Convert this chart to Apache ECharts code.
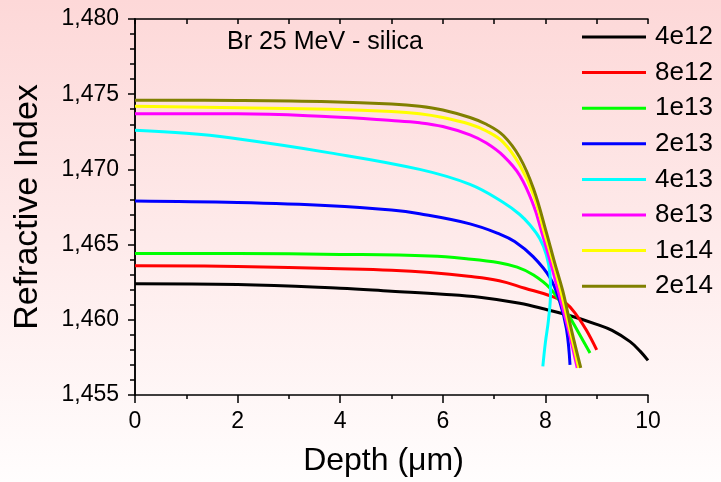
<!DOCTYPE html>
<html>
<head>
<meta charset="utf-8">
<script src="https://cdn.jsdelivr.net/npm/echarts@6/dist/echarts.min.js"></script>
<style>
  html, body { margin: 0; padding: 0; }
  #chart { width: 721px; height: 482px; }
</style>
</head>
<body>
<div id="chart"></div>
<script>
// Refractive index profiles vs depth for different Br fluences
const fluences = ['4e12', '8e12', '1e13', '2e13', '4e13', '8e13', '1e14', '2e14'];
const colors = ['#000000', '#ff0000', '#00ff00', '#0000ff', '#00ffff', '#ff00ff', '#ffff00', '#808000'];

const xTicks = [0, 2, 4, 6, 8, 10];
const yTicks = [1.455, 1.460, 1.465, 1.470, 1.475, 1.480];

// [depth (µm), refractive index]
const n4e12 = [[0,1.4624],[2,1.46235],[4,1.4621],[5,1.4619],[6,1.4617],[6.72,1.4615],[7.5,1.4611],[8,1.4607],[8.5,1.46025],[9,1.4597],[9.3,1.4593],[9.65,1.45855],[9.85,1.4579],[10,1.4573]];
const n8e12 = [[0,1.4636],[2,1.46355],[4,1.4634],[5,1.4633],[5.75,1.46315],[6.5,1.4629],[7.1,1.4626],[7.6,1.4621],[8.09,1.4616],[8.4,1.4611],[8.61,1.4603],[8.8,1.4593],[9.0,1.4580]];
const n1e13 = [[0,1.4644],[2,1.4644],[4,1.46435],[5.75,1.46424],[6.5,1.46405],[7.1,1.4638],[7.45,1.4635],[7.76,1.4630],[8.09,1.4621],[8.41,1.46054],[8.67,1.4590],[8.87,1.4578]];
const n2e13 = [[0,1.4679],[2,1.4678],[3.8,1.46759],[5,1.4673],[5.55,1.46705],[6.53,1.46638],[7.11,1.4657],[7.4,1.4652],[7.76,1.4642],[8.09,1.4628],[8.28,1.4612],[8.41,1.4594],[8.48,1.4570]];
const n4e13 = [[0,1.4726],[1,1.4724],[1.85,1.4721],[3.8,1.4711],[5.55,1.4700],[6.53,1.4690],[7.18,1.4678],[7.5,1.4670],[7.7,1.4663],[7.89,1.4654],[8.02,1.4643],[8.09,1.4630],[8.1,1.4618],[8.06,1.4600],[8.0,1.4585],[7.95,1.4569]];
const n8e13 = [[0,1.4737],[2,1.4737],[3.8,1.4735],[5,1.47325],[5.55,1.4731],[6.0,1.47285],[6.53,1.4723],[6.85,1.47175],[7.18,1.4709],[7.5,1.4696],[7.77,1.4676],[7.93,1.4658],[8.1,1.4638],[8.25,1.4619],[8.45,1.4593],[8.62,1.4568]];
const n1e14 = [[0,1.4742],[2,1.4741],[3.8,1.4740],[5,1.47385],[5.55,1.4737],[6.0,1.47345],[6.53,1.4730],[6.85,1.47255],[7.18,1.4718],[7.5,1.4703],[7.77,1.4683],[7.98,1.4658],[8.15,1.4638],[8.3,1.4619],[8.48,1.4593],[8.65,1.4568]];
const n2e14 = [[0,1.4746],[2,1.47458],[3.8,1.4745],[5,1.47435],[5.55,1.4742],[6.0,1.47395],[6.53,1.47345],[6.85,1.4730],[7.18,1.47225],[7.5,1.4708],[7.77,1.4687],[8.02,1.4658],[8.18,1.4638],[8.34,1.4619],[8.51,1.4593],[8.69,1.4568]];

const curves = [n4e12, n8e12, n1e13, n2e13, n4e13, n8e13, n1e14, n2e14];

const FONT = 'Liberation Sans, Arial, sans-serif';
const axisLine = { show: true, lineStyle: { color: '#000', width: 1.5 } };

const chart = echarts.init(document.getElementById('chart'), null, { renderer: 'canvas' });

chart.setOption({
  animation: false,
  backgroundColor: {
    type: 'linear', x: 0, y: 0, x2: 0, y2: 1,
    colorStops: [
      { offset: 0, color: '#fdd8d8' },
      { offset: 1, color: '#fffdfd' }
    ]
  },
  title: {
    text: 'Br 25 MeV - silica',
    left: 227, top: 30, padding: 0,
    textStyle: { fontFamily: FONT, fontSize: 25, fontWeight: 'normal', color: '#000' }
  },
  legend: {
    orient: 'vertical',
    left: 582, top: 24, padding: 0,
    icon: 'rect',
    itemWidth: 64, itemHeight: 3,
    itemGap: 9.6,
    data: fluences,
    textStyle: { fontFamily: FONT, fontSize: 26, lineHeight: 26, color: '#000', padding: [0, 0, 0, 4] },
    selectedMode: false
  },
  grid: { left: 135, top: 19, right: 73, bottom: 85 },
  xAxis: [
    {
      type: 'value', position: 'bottom',
      min: xTicks[0], max: xTicks[xTicks.length - 1], interval: 2,
      name: 'Depth (\u03bcm)', nameLocation: 'middle', nameGap: 50,
      nameTextStyle: { fontFamily: FONT, fontSize: 32, color: '#000', padding: [0, 16, 0, 0] },
      axisLine: axisLine,
      axisTick: { show: true, inside: false, length: 8, lineStyle: { color: '#000', width: 1.5 } },
      minorTick: { show: true, splitNumber: 2, length: 4, lineStyle: { color: '#000', width: 1.5 } },
      axisLabel: { fontFamily: FONT, fontSize: 23, color: '#000', margin: 15 },
      splitLine: { show: false }
    },
    {
      type: 'value', position: 'top',
      min: xTicks[0], max: xTicks[xTicks.length - 1], interval: 1,
      axisLine: axisLine,
      axisTick: { show: true, inside: true, length: 5, lineStyle: { color: '#000', width: 1.5 } },
      axisLabel: { show: false },
      splitLine: { show: false }
    }
  ],
  yAxis: [
    {
      type: 'value', position: 'left',
      min: yTicks[0], max: yTicks[yTicks.length - 1], interval: 0.005,
      name: 'Refractive Index', nameLocation: 'middle', nameGap: 90,
      nameTextStyle: { fontFamily: FONT, fontSize: 34, color: '#000' },
      axisLine: axisLine,
      axisTick: { show: true, inside: false, length: 7, lineStyle: { color: '#000', width: 1.5 } },
      minorTick: { show: true, splitNumber: 5, length: 4, lineStyle: { color: '#000', width: 1.5 } },
      axisLabel: {
        fontFamily: FONT, fontSize: 23, color: '#000', margin: 16,
        formatter: v => v.toFixed(3).replace('.', ',')
      },
      splitLine: { show: false }
    },
    {
      type: 'value', position: 'right',
      min: yTicks[0], max: yTicks[yTicks.length - 1], interval: 0.001,
      axisLine: axisLine,
      axisTick: { show: true, inside: true, length: 5, lineStyle: { color: '#000', width: 1.5 } },
      axisLabel: { show: false },
      splitLine: { show: false }
    }
  ],
  series: curves.map((d, i) => ({
    name: fluences[i],
    type: 'line',
    data: d,
    xAxisIndex: 0, yAxisIndex: 0,
    smooth: 0.4,
    showSymbol: false,
    color: colors[i],
    lineStyle: { color: colors[i], width: 3 },
    z: 2 + i
  }))
});
</script>
</body>
</html>
